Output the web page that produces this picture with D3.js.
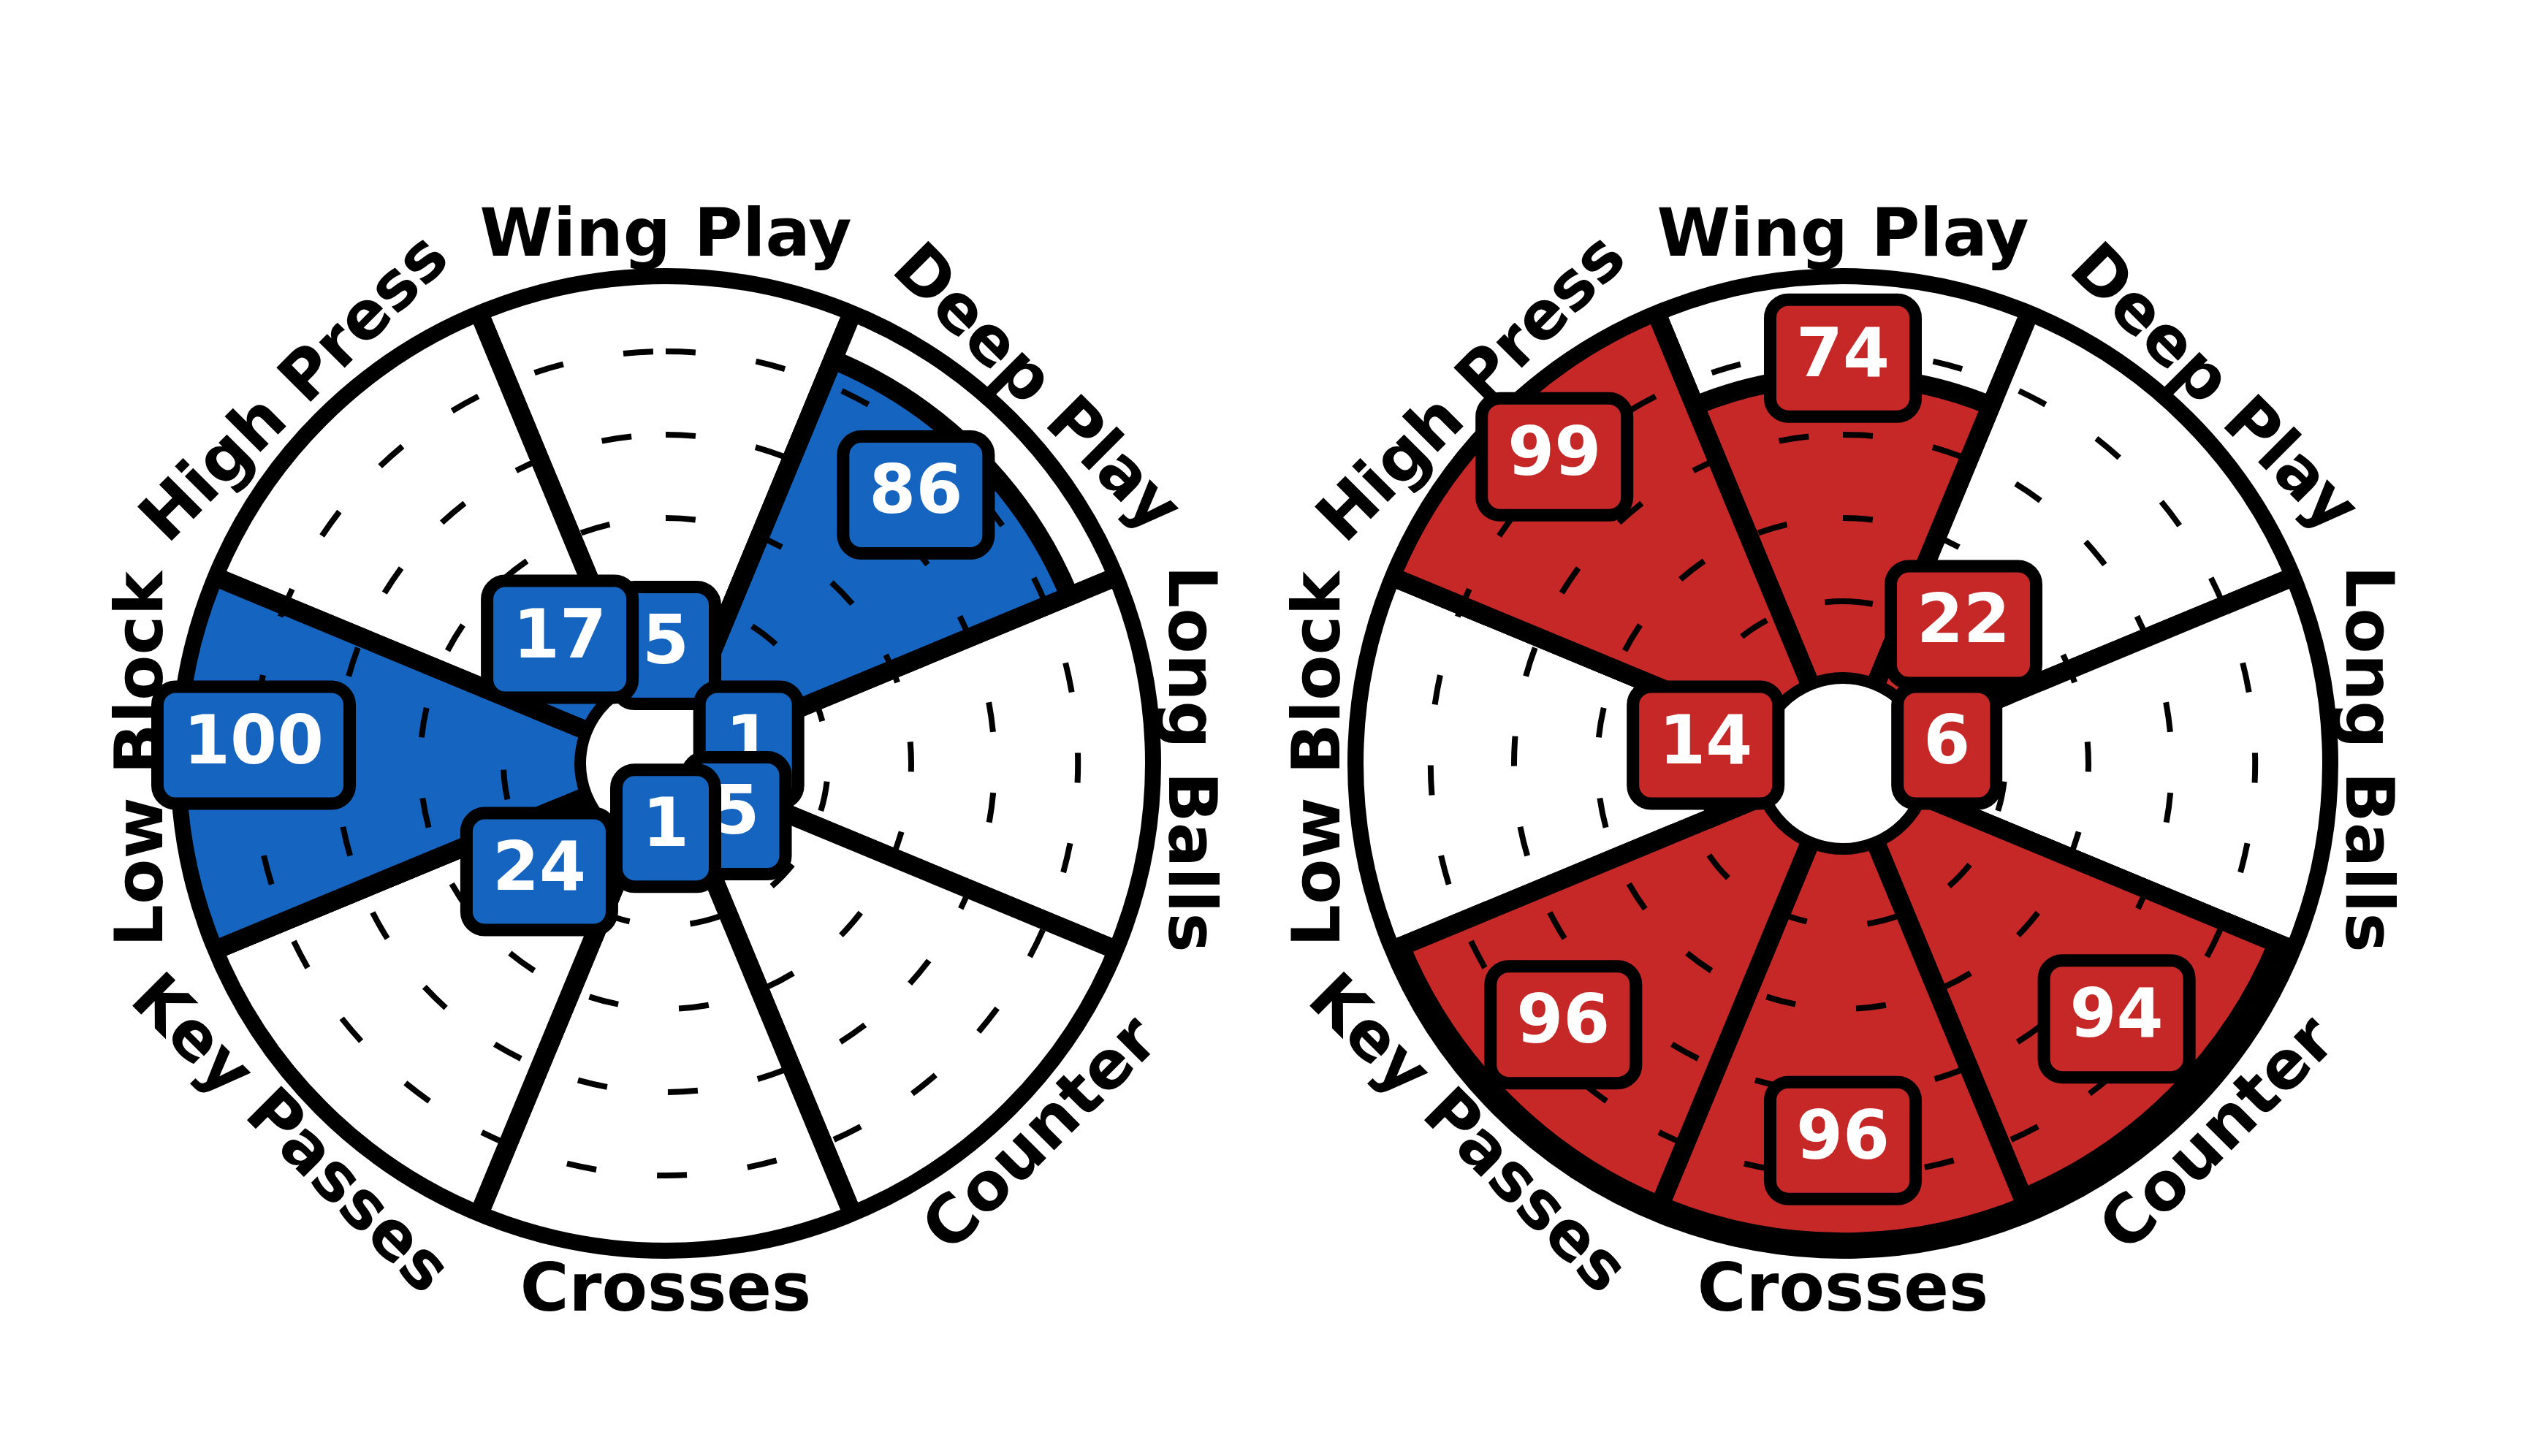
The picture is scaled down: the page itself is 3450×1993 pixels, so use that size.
<!DOCTYPE html>
<html><head><meta charset="utf-8">
<script src="https://cdn.jsdelivr.net/npm/d3@7"></script>
<style>body{margin:0;background:#fff;} svg{display:block}</style>
</head><body>
<svg id="chart" width="3450" height="1993"></svg>
<script>
// ---- data ----
const categories = ["Wing Play","Deep Play","Long Balls","Counter","Crosses","Key Passes","Low Block","High Press"];
const blueValues = [5, 86, 1, 5, 1, 24, 100, 17];
const redValues  = [74, 22, 6, 94, 96, 96, 14, 99];
const gridTicks  = [20, 40, 60, 80];
const seriesColors = ["#1565C0", "#C62828"];

// ---- layout ----
const W = 3450, H = 1993;
const centers = [[911, 1045], [2522, 1045]];
const R = 667;            // outer circle
const holeR = 117;        // inner circle
const svg = d3.select("#chart");
svg.append("rect").attr("width", W).attr("height", H).attr("fill", "#fff");

const angle = d3.scaleBand().domain(categories).range([-Math.PI/8, 2*Math.PI - Math.PI/8]).paddingInner(0).paddingOuter(0);
const bw = angle.bandwidth();
const rScale = d3.scaleLinear().domain([0, 100]).range([108, 678]);

const fontFam = "'DejaVu Sans', 'Liberation Sans', sans-serif";

function drawPizza(idx, values, color) {
  const [cx, cy] = centers[idx];
  const g = svg.append("g").attr("transform", `translate(${cx},${cy})`);
  const clipId = "clip" + idx;
  svg.append("defs").append("clipPath").attr("id", clipId)
    .append("circle").attr("cx", 0).attr("cy", 0).attr("r", R);
  const inner = g.append("g").attr("clip-path", `url(#${clipId})`);

  // background slices
  const bgArc = d3.arc().innerRadius(0).outerRadius(rScale(100));
  inner.selectAll("path.bg").data(categories).enter().append("path")
    .attr("class", "bg")
    .attr("d", c => bgArc({startAngle: angle(c), endAngle: angle(c) + bw}))
    .attr("fill", "#fff").attr("stroke", "#000").attr("stroke-width", 26)
    .attr("stroke-linejoin", "miter");

  // value wedges
  const valArc = d3.arc().innerRadius(0);
  inner.selectAll("path.val").data(categories).enter().append("path")
    .attr("class", "val")
    .attr("d", (c, i) => valArc({startAngle: angle(c), endAngle: angle(c) + bw, outerRadius: rScale(values[i])}))
    .attr("fill", color).attr("stroke", "#000").attr("stroke-width", 26)
    .attr("stroke-linejoin", "miter");

  // dashed grid circles (start at top, clockwise)
  inner.selectAll("path.grid").data(gridTicks).enter().append("path")
    .attr("class", "grid")
    .attr("d", t => { const r = rScale(t); return `M0,${-r}A${r},${r} 0 1 1 0,${r}A${r},${r} 0 1 1 0,${-r}`; })
    .attr("fill", "none").attr("stroke", "#000").attr("stroke-width", 8)
    .attr("stroke-dasharray", "41 83.5");

  // outer circle
  g.append("circle").attr("r", R).attr("fill", "none").attr("stroke", "#000").attr("stroke-width", 22);
  // hole
  g.append("circle").attr("r", holeR).attr("fill", "#fff").attr("stroke", "#000").attr("stroke-width", 16);

  // value boxes
  categories.forEach((c, i) => {
    const v = values[i];
    const lv = v > 80 ? v - 20 : v;
    const a = angle(c) + bw / 2;
    const r = rScale(lv);
    const x = r * Math.sin(a);
    const y = -r * Math.cos(a) - 25;
    const lg = g.append("g").attr("transform", `translate(${x},${y})`);
    const rect = lg.append("rect");
    const txt = lg.append("text").text(v)
      .attr("x", 0).attr("y", 24.5)
      .attr("text-anchor", "middle")
      .attr("font-family", fontFam).attr("font-weight", "bold")
      .attr("font-size", 92).attr("fill", "#fff");
    const tw = txt.node().getComputedTextLength();
    const bwid = tw + 71, bh = 160;
    rect.attr("x", -bwid/2).attr("y", -bh/2).attr("width", bwid).attr("height", bh)
      .attr("rx", 25).attr("ry", 25)
      .attr("fill", color).attr("stroke", "#000").attr("stroke-width", 17);
  });

  // category labels
  categories.forEach((c) => {
    const a = angle(c) + bw / 2;
    const r = 722;
    const x = r * Math.sin(a), y = -r * Math.cos(a) - 6;
    let deg = a * 180 / Math.PI;
    if (deg > 90.01 && deg < 269.99) deg -= 180;
    g.append("text").text(c)
      .attr("transform", `translate(${x},${y}) rotate(${deg})`)
      .attr("text-anchor", "middle").attr("dy", "0.36em")
      .attr("font-family", fontFam).attr("font-weight", "bold")
      .attr("font-size", 91).attr("fill", "#000");
  });
}

drawPizza(0, blueValues, seriesColors[0]);
drawPizza(1, redValues, seriesColors[1]);
</script>
</body></html>
